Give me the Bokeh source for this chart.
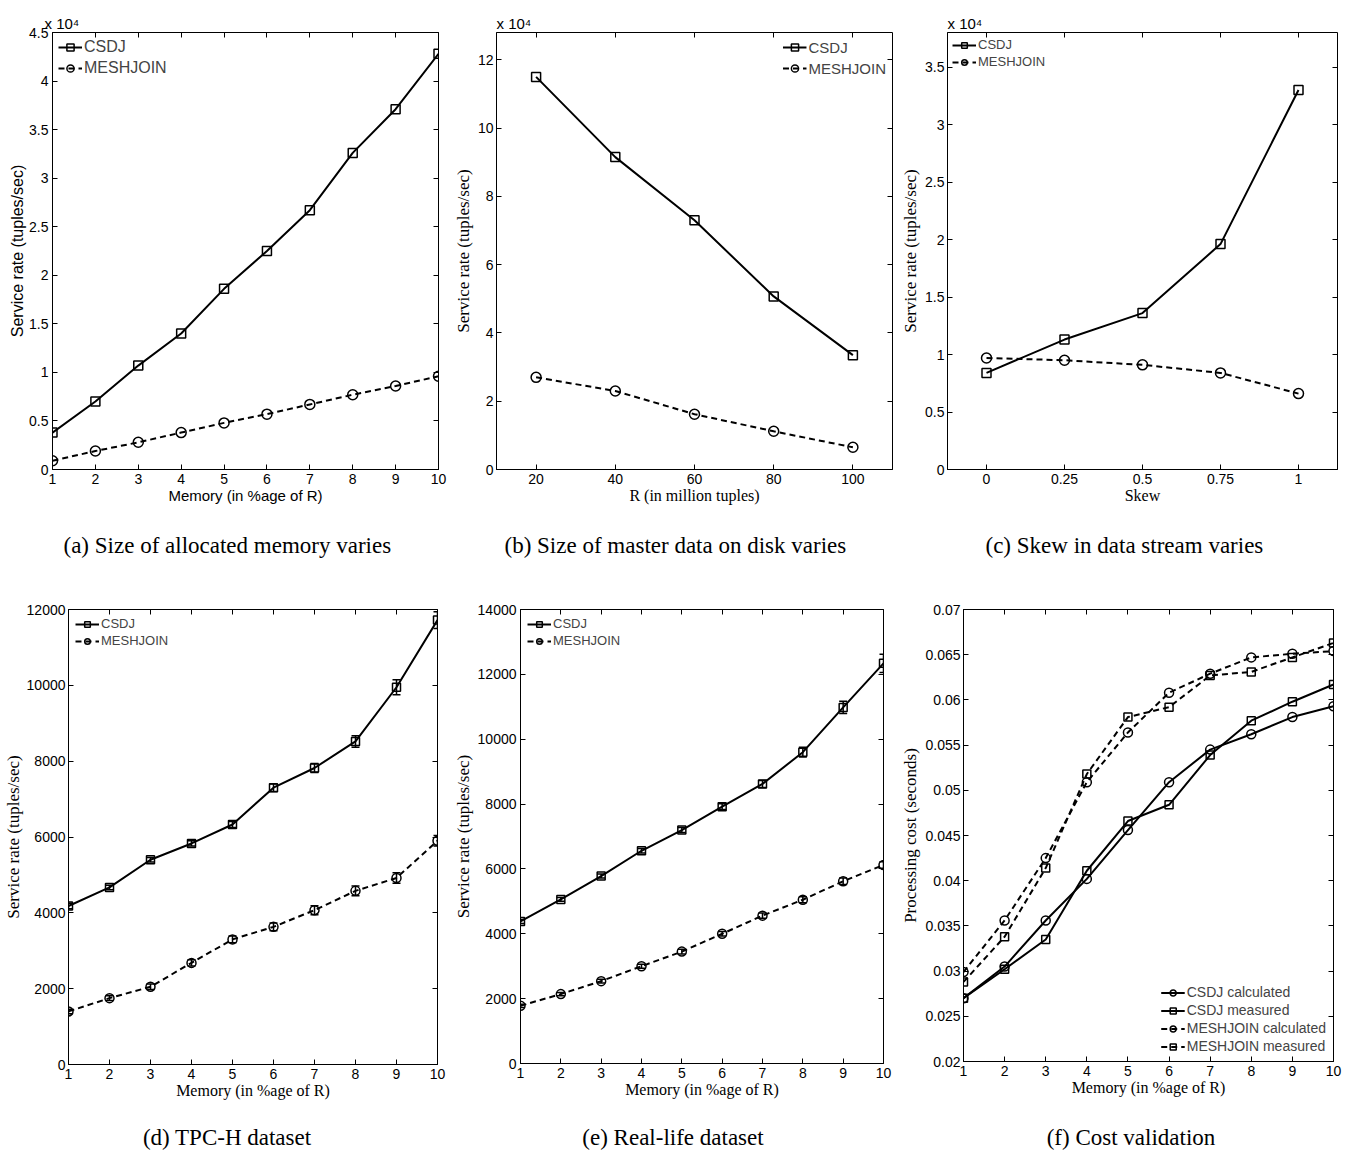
from bokeh.plotting import figure
from bokeh.models import (Range1d, FixedTicker, LinearAxis, Legend, LegendItem, Whisker,
                          ColumnDataSource, CustomJSTickFormatter, Title, TeeHead, Div)
from bokeh.layouts import row, column
from bokeh.embed import file_html
from bokeh.resources import INLINE

SANS = "Liberation Sans"
SERIF = "Liberation Serif"

# ---------------- data ----------------
memory = [1, 2, 3, 4, 5, 6, 7, 8, 9, 10]

# (a) allocated memory
a_csdj = [3800, 7000, 10700, 14000, 18600, 22500, 26700, 32600, 37100, 42800]
a_mesh = [900, 1900, 2800, 3800, 4800, 5700, 6700, 7700, 8600, 9600]

# (b) size of master data
r_size = [20, 40, 60, 80, 100]
b_csdj = [115000, 91500, 73000, 50700, 33500]
b_mesh = [27000, 23000, 16200, 11200, 6500]

# (c) skew
skew = [0, 0.25, 0.5, 0.75, 1]
c_csdj = [8400, 11300, 13600, 19600, 33000]
c_mesh = [9700, 9500, 9100, 8400, 6600]

# (d) TPC-H
d_csdj = [4180, 4670, 5400, 5830, 6330, 7300, 7820, 8520, 9950, 11720]
d_csdj_err = [70, 60, 60, 70, 80, 100, 120, 150, 200, 220]
d_mesh = [1400, 1750, 2050, 2680, 3300, 3630, 4070, 4580, 4920, 5900]
d_mesh_err = [60, 60, 70, 80, 90, 100, 120, 130, 140, 140]

# (e) real-life
e_csdj = [4380, 5060, 5780, 6560, 7200, 7920, 8620, 9600, 10980, 12340]
e_csdj_err = [60, 60, 60, 70, 80, 90, 110, 150, 190, 280]
e_mesh = [1780, 2140, 2540, 3000, 3450, 4000, 4560, 5050, 5620, 6120]
e_mesh_err = [50, 50, 60, 60, 70, 70, 80, 90, 100, 100]

# (f) cost validation
f_csdj_calc = [0.0270, 0.0305, 0.0356, 0.0402, 0.0456, 0.0509, 0.0545, 0.0562, 0.0581, 0.0593]
f_csdj_meas = [0.0270, 0.0302, 0.0335, 0.0411, 0.0466, 0.0484, 0.0539, 0.0577, 0.0598, 0.0617]
f_mesh_calc = [0.0299, 0.0356, 0.0425, 0.0509, 0.0564, 0.0608, 0.0629, 0.0647, 0.0651, 0.0654]
f_mesh_meas = [0.0288, 0.0338, 0.0414, 0.0518, 0.0581, 0.0592, 0.0627, 0.0631, 0.0647, 0.0663]

mem_ticks = memory
a_yticks = [0, 5000, 10000, 15000, 20000, 25000, 30000, 35000, 40000, 45000]
b_xticks = r_size
b_yticks = [0, 20000, 40000, 60000, 80000, 100000, 120000]
c_xticks = skew
c_yticks = [0, 5000, 10000, 15000, 20000, 25000, 30000, 35000]
d_yticks = [0, 2000, 4000, 6000, 8000, 10000, 12000]
e_yticks = [0, 2000, 4000, 6000, 8000, 10000, 12000, 14000]
f_yticks = [0.02, 0.025, 0.03, 0.035, 0.04, 0.045, 0.05, 0.055, 0.06, 0.065, 0.07]

captions = ["(a) Size of allocated memory varies", "(b) Size of master data on disk varies",
            "(c) Skew in data stream varies", "(d) TPC-H dataset", "(e) Real-life dataset",
            "(f) Cost validation"]
exponent_text = "x 10\u2074"


def fmt_e4():
    return CustomJSTickFormatter(code="return String(+(tick/1e4).toFixed(2));")


def fmt_plain():
    return CustomJSTickFormatter(code="return String(+tick.toFixed(3));")


def fmt_blank():
    return CustomJSTickFormatter(code="return '';")


def make_panel(w, h, bl, br, bt, bb, xr, yr, xticks, yticks, xlabel, ylabel,
               xlabel_font, ylabel_font, yfmt, ylab_standoff=0, ytick_standoff=4):
    p = figure(width=w, height=h, x_range=Range1d(*xr), y_range=Range1d(*yr),
               output_backend="svg", toolbar_location=None,
               min_border_left=bl, min_border_right=br, min_border_top=bt, min_border_bottom=bb)
    p.xgrid.visible = False
    p.ygrid.visible = False
    p.outline_line_color = "black"
    p.outline_line_alpha = 1
    p.outline_line_width = 1
    p.background_fill_color = "white"
    p.border_fill_color = "white"

    for ax, ticks in ((p.xaxis[0], xticks), (p.yaxis[0], yticks)):
        ax.ticker = FixedTicker(ticks=ticks)
        ax.minor_tick_line_color = None
        ax.major_tick_in = 5
        ax.major_tick_out = 0
        ax.major_tick_line_color = "black"
        ax.axis_line_color = "black"
        ax.major_label_text_font = SANS
        ax.major_label_text_font_size = "14px"
        ax.major_label_text_color = "black"
        ax.axis_label_text_font_style = "normal"
        ax.axis_label_text_color = "black"
    p.xaxis[0].formatter = fmt_plain()
    p.yaxis[0].formatter = yfmt
    p.xaxis[0].axis_label = xlabel
    p.yaxis[0].axis_label = ylabel
    p.xaxis[0].axis_label_text_font = xlabel_font
    p.yaxis[0].axis_label_text_font = ylabel_font
    p.xaxis[0].axis_label_text_font_size = "15px" if xlabel_font == SANS else "16px"
    p.yaxis[0].axis_label_text_font_size = "16px" if ylabel_font == SANS else "17px"
    p.xaxis[0].major_label_standoff = 4
    p.xaxis[0].axis_label_standoff = 0
    p.yaxis[0].major_label_standoff = ytick_standoff
    p.yaxis[0].axis_label_standoff = ylab_standoff

    # mirrored ticks on top and right
    top = LinearAxis(ticker=FixedTicker(ticks=xticks), formatter=fmt_blank(),
                     major_label_text_font_size="1px",
                     major_label_standoff=0, axis_line_color=None, minor_tick_line_color=None,
                     major_tick_in=5, major_tick_out=0)
    right = LinearAxis(ticker=FixedTicker(ticks=yticks), formatter=fmt_blank(),
                       major_label_text_font_size="1px",
                       major_label_standoff=0, axis_line_color=None, minor_tick_line_color=None,
                       major_tick_in=5, major_tick_out=0)
    p.add_layout(top, "above")
    p.add_layout(right, "right")
    return p


def add_caption_title(p, caption, off, standoff):
    p.add_layout(Title(text=caption, align="left", offset=off, standoff=standoff,
                       vertical_align="middle", text_font=SERIF, text_font_size="23px",
                       text_font_style="normal", text_color="black"), "below")


def caption_div(caption, w, h, pad_left, pad_right, pad_top):
    return Div(text=caption, width=w, height=h,
               styles={"font-family": SERIF, "font-size": "23px", "color": "black",
                       "text-align": "center", "white-space": "nowrap",
                       "padding-left": f"{pad_left}px", "padding-right": f"{pad_right}px",
                       "padding-top": f"{pad_top}px", "box-sizing": "border-box",
                       "line-height": "26px", "margin": "0px"})


def add_exp(p, dx):
    p.add_layout(Title(text=exponent_text, align="left", offset=dx, standoff=2,
                       text_font=SANS, text_font_size="15px", text_font_style="normal",
                       text_color="black"), "above")


def series(p, x, y, marker, dashed, size):
    dash = "6 4" if dashed else "solid"
    r1 = p.line(x, y, line_color="black", line_width=2, line_dash=dash)
    r2 = p.scatter(x, y, marker=marker, size=size, line_color="black", line_width=1.5,
                   fill_color="white", fill_alpha=0)
    return [r1, r2]


def errbars(p, x, y, err):
    src = ColumnDataSource(dict(x=x, lo=[a - b for a, b in zip(y, err)],
                                hi=[a + b for a, b in zip(y, err)]))
    p.add_layout(Whisker(source=src, base="x", lower="lo", upper="hi", line_color="black",
                         line_width=1.5,
                         lower_head=TeeHead(size=8, line_color="black", line_width=1.5),
                         upper_head=TeeHead(size=8, line_color="black", line_width=1.5)))


def legend(p, items, loc, fsize, lh, spacing, margin, gw=24):
    lg = Legend(items=[LegendItem(label=t, renderers=r) for t, r in items], location=loc,
                label_text_font=SANS, label_text_font_size=fsize, label_height=lh,
                glyph_height=lh, glyph_width=gw, label_standoff=2, spacing=spacing,
                padding=0, margin=margin, background_fill_alpha=0,
                border_line_color=None)
    p.add_layout(lg)


# (a)
pa = make_panel(450, 590, 52, 12, 32, 121, (1, 10), (0, 45000), mem_ticks, a_yticks,
                "Memory (in %age of R)", "Service rate (tuples/sec)", SANS, SANS, fmt_e4())
add_caption_title(pa, captions[0], 11, 50)
ra1 = series(pa, memory, a_csdj, "square", False, 9)
ra2 = series(pa, memory, a_mesh, "circle", True, 10)
legend(pa, [("CSDJ", ra1), ("MESHJOIN", ra2)], "top_left", "16px", 18, 3, 6)
add_exp(pa, -8)

# (b)
pb = make_panel(448, 590, 45, 6, 27, 120, (10, 110), (0, 128000), b_xticks, b_yticks,
                "R (in million tuples)", "Service rate (tuples/sec)", SERIF, SERIF, fmt_e4(),
                ylab_standoff=2, ytick_standoff=3)
add_caption_title(pb, captions[1], 8, 50)
rb1 = series(pb, r_size, b_csdj, "square", False, 9)
rb2 = series(pb, r_size, b_mesh, "circle", True, 10)
legend(pb, [("CSDJ", rb1), ("MESHJOIN", rb2)], "top_right", "15px", 18, 3, 6)
add_exp(pb, 0)

# (c)
pc = make_panel(450, 590, 47, 11, 27, 118, (-0.125, 1.125), (0, 38000), c_xticks, c_yticks,
                "Skew", "Service rate (tuples/sec)", SERIF, SERIF, fmt_e4(),
                ylab_standoff=2, ytick_standoff=3)
add_caption_title(pc, captions[2], 38, 50)
rc1 = series(pc, skew, c_csdj, "square", False, 9)
rc2 = series(pc, skew, c_mesh, "circle", True, 10)
legend(pc, [("CSDJ", rc1), ("MESHJOIN", rc2)], "top_left", "13px", 14, 2, 5)
add_exp(pc, 0)

# (d)
pd_ = make_panel(450, 516, 68, 13, 19, 42, (1, 10), (0, 12000), mem_ticks, d_yticks,
                 "Memory (in %age of R)", "Service rate (tuples/sec)", SERIF, SERIF, fmt_plain(),
                 ylab_standoff=1, ytick_standoff=3)
errbars(pd_, memory, d_csdj, d_csdj_err)
errbars(pd_, memory, d_mesh, d_mesh_err)
rd1 = series(pd_, memory, d_csdj, "square", False, 8)
rd2 = series(pd_, memory, d_mesh, "circle", True, 9)
legend(pd_, [("CSDJ", rd1), ("MESHJOIN", rd2)], "top_left", "13px", 14, 2, 7)

# (e)
pe = make_panel(448, 516, 67, 15, 19, 43, (1, 10), (0, 14000), mem_ticks, e_yticks,
                "Memory (in %age of R)", "Service rate (tuples/sec)", SERIF, SERIF, fmt_plain(),
                ylab_standoff=2, ytick_standoff=4)
errbars(pe, memory, e_csdj, e_csdj_err)
errbars(pe, memory, e_mesh, e_mesh_err)
re1 = series(pe, memory, e_csdj, "square", False, 8)
re2 = series(pe, memory, e_mesh, "circle", True, 9)
legend(pe, [("CSDJ", re1), ("MESHJOIN", re2)], "top_left", "13px", 14, 2, 7)

# (f)
pf = make_panel(450, 516, 63, 15, 19, 45, (1, 10), (0.02, 0.07), mem_ticks, f_yticks,
                "Memory (in %age of R)", "Processing cost (seconds)", SERIF, SERIF, fmt_plain(),
                ylab_standoff=2, ytick_standoff=3)
rf1 = series(pf, memory, f_csdj_calc, "circle", False, 9)
rf2 = series(pf, memory, f_csdj_meas, "square", False, 8)
rf3 = series(pf, memory, f_mesh_calc, "circle", True, 9)
rf4 = series(pf, memory, f_mesh_meas, "square", True, 8)
legend(pf, [("CSDJ calculated", rf1), ("CSDJ measured", rf2),
            ("MESHJOIN calculated", rf3), ("MESHJOIN measured", rf4)],
       "bottom_right", "14px", 15, 2, 7)

dd = caption_div(captions[3], 450, 46, 4, 0, 19)
de = caption_div(captions[4], 448, 46, 0, 2, 19)
df = caption_div(captions[5], 450, 46, 16, 0, 19)

layout = column(row(pa, pb, pc),
                row(column(pd_, dd), column(pe, de), column(pf, df)))
open("out.html", "w").write(file_html(layout, INLINE))
